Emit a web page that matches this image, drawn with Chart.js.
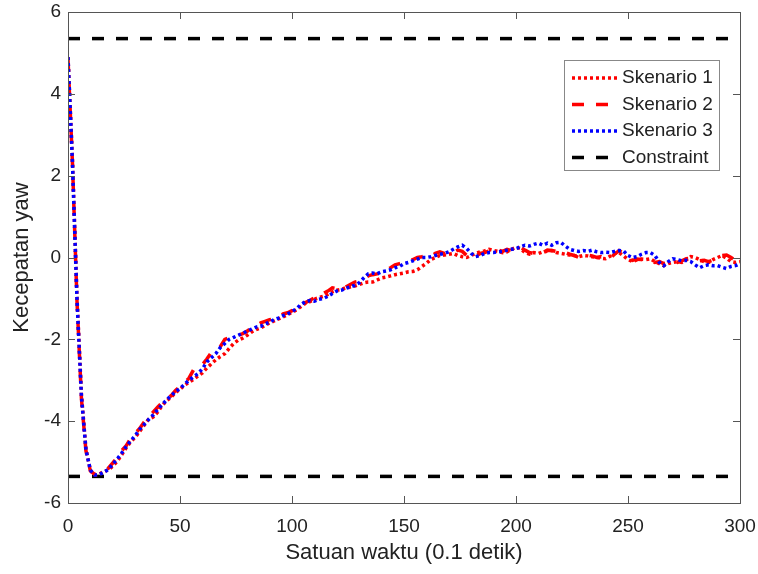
<!DOCTYPE html>
<html>
<head>
<meta charset="utf-8">
<script src="https://cdn.jsdelivr.net/npm/chart.js@4.4.1/dist/chart.umd.min.js"></script>
<style>
    html, body { margin: 0; padding: 0; background: #fff; }
    canvas { display: block; }
</style>
</head>
<body>
<canvas id="yawChart" width="758" height="574"></canvas>
<script>
// time steps (every 2 samples)
const waktu = [
    0, 2, 4, 6, 8, 10, 12, 14, 16, 18,
    20, 22, 24, 26, 28, 30, 32, 34, 36, 38,
    40, 42, 44, 46, 48, 50, 52, 54, 56, 58,
    60, 62, 64, 66, 68, 70, 72, 74, 76, 78,
    80, 82, 84, 86, 88, 90, 92, 94, 96, 98,
    100, 102, 104, 106, 108, 110, 112, 114, 116, 118,
    120, 122, 124, 126, 128, 130, 132, 134, 136, 138,
    140, 142, 144, 146, 148, 150, 152, 154, 156, 158,
    160, 162, 164, 166, 168, 170, 172, 174, 176, 178,
    180, 182, 184, 186, 188, 190, 192, 194, 196, 198,
    200, 202, 204, 206, 208, 210, 212, 214, 216, 218,
    220, 222, 224, 226, 228, 230, 232, 234, 236, 238,
    240, 242, 244, 246, 248, 250, 252, 254, 256, 258,
    260, 262, 264, 266, 268, 270, 272, 274, 276, 278,
    280, 282, 284, 286, 288, 290, 292, 294, 296, 298,
    300
];

const skenario1 = [
    4.9, 2.35, -0.95, -3.35, -4.68, -5.2, -5.32, -5.3, -5.22, -5.2,
    -5.1, -4.98, -4.82, -4.65, -4.5, -4.4, -4.25, -4.1, -3.95, -3.9,
    -3.78, -3.62, -3.5, -3.42, -3.3, -3.22, -3.12, -3.05, -2.98, -2.9,
    -2.82, -2.7, -2.6, -2.5, -2.42, -2.35, -2.22, -2.1, -2.02, -1.97,
    -1.9, -1.82, -1.76, -1.72, -1.66, -1.6, -1.55, -1.5, -1.45, -1.4,
    -1.34, -1.28, -1.2, -1.12, -1.08, -1.02, -0.98, -0.95, -0.9, -0.84,
    -0.8, -0.78, -0.74, -0.72, -0.7, -0.66, -0.62, -0.6, -0.6, -0.55,
    -0.5, -0.48, -0.45, -0.42, -0.4, -0.38, -0.35, -0.34, -0.3, -0.22,
    -0.14, -0.05, 0.0, 0.05, 0.06, 0.08, 0.1, 0.05, 0.02, 0.0,
    0.05, 0.1, 0.14, 0.16, 0.2, 0.17, 0.15, 0.12, 0.14, 0.2,
    0.25, 0.22, 0.12, 0.08, 0.12, 0.1, 0.14, 0.15, 0.17, 0.12,
    0.1, 0.08, 0.06, 0.05, 0.02, 0.05, 0.04, 0.02, 0.0, -0.02,
    -0.03, 0.03, 0.1, 0.12, 0.04, -0.05, -0.1, -0.06, -0.04, -0.05,
    -0.03, -0.1, -0.15, -0.2, -0.15, -0.12, -0.1, -0.12, -0.06, 0.02,
    0.0, -0.05, -0.1, -0.12, -0.05, 0.0, 0.05, -0.02, -0.1, -0.12,
    -0.1
];

const skenario2 = [
    4.85, 2.3, -1.05, -3.45, -4.72, -5.22, -5.3, -5.25, -5.2, -5.15,
    -5.02, -4.88, -4.72, -4.6, -4.42, -4.3, -4.18, -4.02, -3.9, -3.78,
    -3.66, -3.55, -3.45, -3.38, -3.25, -3.15, -3.06, -2.95, -2.75, -2.7,
    -2.62, -2.48, -2.32, -2.28, -2.18, -2.0, -1.96, -1.94, -1.9, -1.86,
    -1.8, -1.72, -1.66, -1.6, -1.56, -1.52, -1.5, -1.45, -1.38, -1.35,
    -1.3, -1.22, -1.14, -1.1, -1.05, -0.98, -0.9, -0.88, -0.82, -0.74,
    -0.76, -0.78, -0.72, -0.66, -0.6, -0.58, -0.52, -0.45, -0.42, -0.4,
    -0.38, -0.3, -0.25, -0.18, -0.15, -0.12, -0.1, -0.05, 0.0, 0.02,
    0.05, 0.02, 0.1, 0.14, 0.1, 0.08, 0.12, 0.18, 0.15, 0.05,
    0.0, 0.03, 0.1, 0.12, 0.16, 0.22, 0.18, 0.15, 0.2, 0.17,
    0.2, 0.25, 0.18, 0.12, 0.1, 0.14, 0.12, 0.18, 0.17, 0.15,
    0.1, 0.12, 0.08, 0.05, 0.0, 0.03, 0.06, 0.04, 0.0, 0.02,
    -0.03, -0.02, 0.08, 0.17, 0.1, 0.0, -0.07, -0.04, -0.05, -0.07,
    -0.06, -0.12, -0.1, -0.15, -0.12, -0.1, -0.12, -0.08, -0.03, -0.02,
    -0.05, -0.08, -0.07, -0.1, -0.06, -0.02, 0.05, 0.06, 0.0, -0.08,
    -0.12
];

const skenario3 = [
    4.9, 2.3, -1.0, -3.4, -4.7, -5.2, -5.32, -5.3, -5.25, -5.18,
    -5.05, -4.92, -4.78, -4.62, -4.48, -4.35, -4.2, -4.08, -3.96, -3.85,
    -3.72, -3.6, -3.48, -3.38, -3.28, -3.2, -3.1, -3.0, -2.92, -2.84,
    -2.72, -2.55, -2.45, -2.35, -2.2, -2.1, -2.0, -1.95, -1.9, -1.85,
    -1.8, -1.75, -1.7, -1.68, -1.62, -1.58, -1.52, -1.48, -1.42, -1.38,
    -1.32, -1.25, -1.15, -1.08, -1.05, -1.07, -1.02, -1.0, -0.95, -0.88,
    -0.82, -0.8, -0.75, -0.72, -0.68, -0.62, -0.5, -0.4, -0.38, -0.4,
    -0.35, -0.33, -0.3, -0.25, -0.22, -0.15, -0.12, -0.08, -0.04, 0.0,
    0.0, 0.02, 0.05, 0.08, 0.1, 0.14, 0.2, 0.26, 0.3, 0.22,
    0.1, 0.02, 0.05, 0.1, 0.12, 0.12, 0.14, 0.15, 0.18, 0.2,
    0.22, 0.26, 0.3, 0.28, 0.32, 0.35, 0.3, 0.35, 0.3, 0.36,
    0.37, 0.28, 0.2, 0.17, 0.15, 0.17, 0.15, 0.18, 0.14, 0.12,
    0.13, 0.12, 0.15, 0.17, 0.16, 0.05, 0.0, 0.02, 0.08, 0.12,
    0.12, 0.05, -0.12, -0.2, -0.1, -0.03, -0.05, -0.08, -0.07, -0.1,
    -0.18, -0.25, -0.2, -0.18, -0.2, -0.2, -0.24, -0.27, -0.22, -0.2,
    -0.15
];

const batasX = [0, 300];
const batasAtas = [5.35, 5.35];
const batasBawah = [-5.35, -5.35];

const xTicks = [0, 50, 100, 150, 200, 250, 300];
const yTicks = [-6, -4, -2, 0, 2, 4, 6];

const FONT = "'Liberation Sans', Arial, Helvetica, sans-serif";

const toPoints = (xs, ys) => xs.map((x, i) => ({x: x, y: ys[i]}));

// matlab-like box with inward ticks on all four sides
var boxTicks = {
    id: 'boxTicks',
    afterDatasetsDraw(chart) {
        const {ctx, chartArea: {left, right, top, bottom}, scales: {x, y}} = chart;
        const len = 7;
        ctx.save();
        ctx.strokeStyle = '#555';
        ctx.lineWidth = 1;
        ctx.beginPath();
        xTicks.forEach((v) => {
            const px = Math.round(x.getPixelForValue(v)) + 0.5;
            ctx.moveTo(px, bottom);
            ctx.lineTo(px, bottom - len);
            ctx.moveTo(px, top);
            ctx.lineTo(px, top + len);
        });
        yTicks.forEach((v) => {
            const py = Math.round(y.getPixelForValue(v)) + 0.5;
            ctx.moveTo(left, py);
            ctx.lineTo(left + len, py);
            ctx.moveTo(right, py);
            ctx.lineTo(right - len, py);
        });
        ctx.stroke();
        ctx.strokeRect(Math.round(left) + 0.5, Math.round(top) + 0.5, Math.round(right - left), Math.round(bottom - top));
        ctx.restore();
    }
};

// legend box inside the plot, top right
var boxLegend = {
    id: 'boxLegend',
    afterDraw(chart) {
        const ctx = chart.ctx;
        const bx = 564, by = 60, bw = 155, bh = 110;
        ctx.save();
        ctx.fillStyle = '#fff';
        ctx.fillRect(bx, by, bw, bh);
        ctx.strokeStyle = '#888';
        ctx.lineWidth = 1;
        ctx.strokeRect(bx + 0.5, by + 0.5, bw, bh);

        ctx.font = '19px ' + FONT;
        ctx.textBaseline = 'middle';
        ctx.textAlign = 'left';

        let row = 0;
        chart.data.datasets.forEach((ds) => {
            if (ds.hideLegend) {
                return;
            }
            const yy = by + 18 + row * 26.5;
            ctx.beginPath();
            ctx.strokeStyle = ds.borderColor;
            ctx.lineWidth = ds.borderWidth;
            ctx.setLineDash(ds.borderDash || []);
            ctx.moveTo(572, yy);
            ctx.lineTo(619, yy);
            ctx.stroke();
            ctx.setLineDash([]);
            ctx.fillStyle = '#222';
            ctx.fillText(ds.label, 622, yy);
            row++;
        });
        ctx.restore();
    }
};

const noOverflow = (scale) => {
    scale.paddingLeft = 0;
    scale.paddingRight = 0;
    scale.paddingTop = 0;
    scale.paddingBottom = 0;
};

var config = {
    type: 'line',
    data: {
        datasets: [{
            label: 'Skenario 1',
            data: toPoints(waktu, skenario1),
            borderColor: '#ff0000',
            borderWidth: 3.5,
            borderDash: [3, 3],
            order: 2
        }, {
            label: 'Skenario 2',
            data: toPoints(waktu, skenario2),
            borderColor: '#ff0000',
            borderWidth: 3.5,
            borderDash: [12, 12],
            order: 1
        }, {
            label: 'Skenario 3',
            data: toPoints(waktu, skenario3),
            borderColor: '#0000ff',
            borderWidth: 3.5,
            borderDash: [3, 3],
            order: 0
        }, {
            label: 'Constraint',
            data: toPoints(batasX, batasAtas),
            borderColor: '#000',
            borderWidth: 3.5,
            borderDash: [12, 12],
            order: 3
        }, {
            label: 'Constraint',
            hideLegend: true,
            data: toPoints(batasX, batasBawah),
            borderColor: '#000',
            borderWidth: 3.5,
            borderDash: [12, 12],
            order: 3
        }]
    },
    options: {
        responsive: false,
        animation: false,
        layout: {
            padding: {top: 12, right: 18, left: 0, bottom: 0}
        },
        elements: {
            point: {radius: 0},
            line: {tension: 0}
        },
        plugins: {
            legend: {display: false},
            tooltip: {enabled: false}
        },
        scales: {
            x: {
                type: 'linear',
                min: 0,
                max: 300,
                grid: {display: false, drawTicks: false},
                border: {display: false},
                afterBuildTicks: (scale) => {
                    scale.ticks = xTicks.map((v) => ({value: v}));
                },
                afterFit: (scale) => {
                    scale.height = 71;
                    noOverflow(scale);
                },
                ticks: {
                    padding: 12,
                    color: '#222',
                    maxRotation: 0,
                    font: {family: FONT, size: 19}
                },
                title: {
                    display: true,
                    text: 'Satuan waktu (0.1 detik)',
                    color: '#222',
                    padding: {top: 9, bottom: 8},
                    font: {family: FONT, size: 22}
                }
            },
            y: {
                min: -6,
                max: 6,
                grid: {display: false, drawTicks: false},
                border: {display: false},
                afterBuildTicks: (scale) => {
                    scale.ticks = yTicks.map((v) => ({value: v}));
                },
                afterFit: (scale) => {
                    scale.width = 68;
                    noOverflow(scale);
                },
                ticks: {
                    padding: 7,
                    color: '#222',
                    font: {family: FONT, size: 19}
                },
                title: {
                    display: true,
                    text: 'Kecepatan yaw',
                    color: '#222',
                    padding: {top: 9, bottom: 9},
                    font: {family: FONT, size: 22}
                }
            }
        }
    },
    plugins: [boxTicks, boxLegend]
};

new Chart(document.getElementById('yawChart'), config);
</script>
</body>
</html>
